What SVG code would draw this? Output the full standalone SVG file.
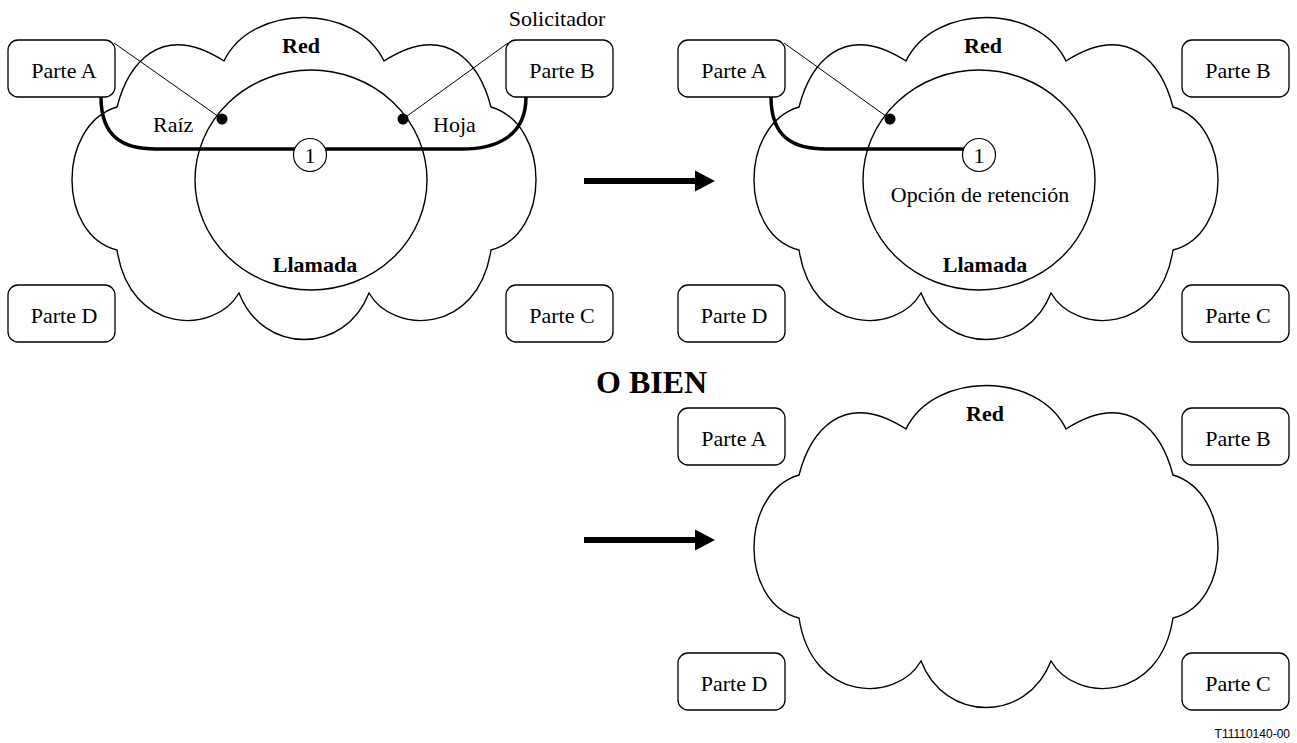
<svg xmlns="http://www.w3.org/2000/svg" xmlns:xlink="http://www.w3.org/1999/xlink" width="1297" height="743" viewBox="0 0 1297 743">
<style>
.box{fill:#fff;stroke:#000;stroke-width:1.3}
.cloud{fill:none;stroke:#000;stroke-width:1.4}
.call{fill:none;stroke:#000;stroke-width:1.4}
.thick{fill:none;stroke:#000;stroke-width:3.5}
.thin{fill:none;stroke:#000;stroke-width:1}
.num{fill:#fff;stroke:#000;stroke-width:1.2}
.t{font-family:"Liberation Serif","Times New Roman",serif;font-size:22px;fill:#000}
.b{font-weight:bold}
.m{text-anchor:middle}
.arrow{stroke:#000;stroke-width:6}
</style>
<defs>
<path id="cloudShape" d="M117,250 C57,235 57,125 117,107 C128,65 160,20 224,61 C252,3 356,3 384,61 C448,20 480,65 491,107 C551,125 551,235 491,250 C478,335 393,335 369,293 C345,355 263,355 239,293 C215,335 130,335 117,250 Z"/>
<rect id="boxShape" width="107" height="57" rx="10" ry="10"/>
</defs>

<!-- Panel 1 -->
<g id="red1">
<use xlink:href="#cloudShape" class="cloud"/>
<text class="t b m" x="301" y="53">Red</text>
</g>
<g id="llamada1">
<ellipse class="call" cx="311" cy="180" rx="116" ry="110"/>
<text class="t b m" x="315" y="272">Llamada</text>
</g>
<g id="parteA1"><use xlink:href="#boxShape" class="box" x="8" y="40"/><text class="t m" x="64" y="78">Parte A</text></g>
<g id="parteB1"><use xlink:href="#boxShape" class="box" x="506" y="40"/><text class="t m" x="562" y="78">Parte B</text></g>
<g id="parteC1"><use xlink:href="#boxShape" class="box" x="506" y="285"/><text class="t m" x="562" y="323">Parte C</text></g>
<g id="parteD1"><use xlink:href="#boxShape" class="box" x="8" y="285"/><text class="t m" x="64" y="323">Parte D</text></g>

<!-- Panel 2 -->
<g id="red2">
<use xlink:href="#cloudShape" class="cloud" transform="translate(682,0)"/>
<text class="t b m" x="983" y="53">Red</text>
</g>
<g id="llamada2">
<ellipse class="call" cx="979" cy="180" rx="116" ry="110"/>
<text class="t b m" x="985" y="272">Llamada</text>
<text class="t m" x="980" y="202">Opción de retención</text>
</g>
<g id="parteA2"><use xlink:href="#boxShape" class="box" x="678" y="40"/><text class="t m" x="734" y="78">Parte A</text></g>
<g id="parteB2"><use xlink:href="#boxShape" class="box" x="1182" y="40"/><text class="t m" x="1238" y="78">Parte B</text></g>
<g id="parteC2"><use xlink:href="#boxShape" class="box" x="1182" y="285"/><text class="t m" x="1238" y="323">Parte C</text></g>
<g id="parteD2"><use xlink:href="#boxShape" class="box" x="678" y="285"/><text class="t m" x="734" y="323">Parte D</text></g>

<!-- Panel 3 -->
<g id="red3">
<use xlink:href="#cloudShape" class="cloud" transform="translate(682,368)"/>
<text class="t b m" x="985" y="421">Red</text>
</g>
<g id="parteA3"><use xlink:href="#boxShape" class="box" x="678" y="408"/><text class="t m" x="734" y="446">Parte A</text></g>
<g id="parteB3"><use xlink:href="#boxShape" class="box" x="1182" y="408"/><text class="t m" x="1238" y="446">Parte B</text></g>
<g id="parteC3"><use xlink:href="#boxShape" class="box" x="1182" y="653"/><text class="t m" x="1238" y="691">Parte C</text></g>
<g id="parteD3"><use xlink:href="#boxShape" class="box" x="678" y="653"/><text class="t m" x="734" y="691">Parte D</text></g>

<!-- Connectors -->
<g id="connectors">
<path class="thick" d="M101,97 C101,138 124,149 156,149 H462 C494,149 526,138 526,97"/>
<line class="thin" x1="114" y1="43" x2="222" y2="119"/>
<line class="thin" x1="508" y1="43" x2="403" y2="119"/>
<circle cx="222" cy="119" r="5.5" fill="#000"/>
<circle cx="403" cy="119" r="5.5" fill="#000"/>

<path class="thick" d="M771,97 C771,138 794,149 826,149 H975"/>
<line class="thin" x1="784" y1="43" x2="890" y2="119"/>
<circle cx="890" cy="119" r="5.5" fill="#000"/>

<line class="arrow" x1="584" y1="181" x2="697" y2="181"/>
<polygon points="695,170.5 715,181 695,191.5" fill="#000"/>
<line class="arrow" x1="584" y1="540" x2="697" y2="540"/>
<polygon points="695,529.5 715,540 695,550.5" fill="#000"/>
</g>

<g id="num1a"><circle class="num" cx="310" cy="155" r="16.5"/><text class="t m" x="310" y="163">1</text></g>
<g id="num1b"><circle class="num" cx="979" cy="155" r="16.5"/><text class="t m" x="979" y="163">1</text></g>

<text class="t m" x="557" y="26">Solicitador</text>
<text class="t" x="153" y="132">Raíz</text>
<text class="t" x="433" y="132">Hoja</text>
<text class="t b" x="596" y="393" style="font-size:32px">O BIEN</text>
<text x="1290" y="738" text-anchor="end" style="font-family:'Liberation Sans',Arial,sans-serif;font-size:12px">T11110140-00</text>
</svg>
